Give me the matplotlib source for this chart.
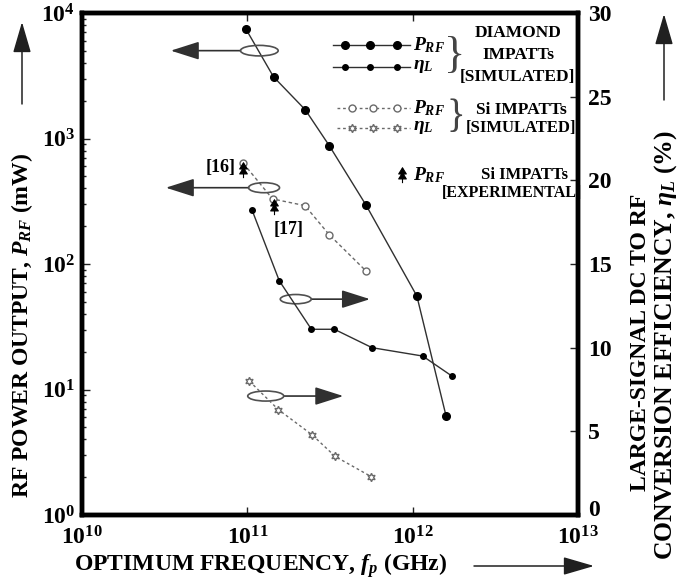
import numpy as np
import matplotlib
matplotlib.use("Agg")
import matplotlib.pyplot as plt
from matplotlib.patches import Ellipse
from matplotlib.path import Path
from matplotlib.transforms import ScaledTranslation

plt.rcParams['font.family'] = ['Liberation Serif', 'DejaVu Serif']
plt.rcParams['font.weight'] = 'bold'
plt.rcParams['mathtext.fontset'] = 'custom'
plt.rcParams['mathtext.rm'] = 'Liberation Serif:bold'
plt.rcParams['mathtext.bf'] = 'Liberation Serif:bold'
plt.rcParams['mathtext.it'] = 'Liberation Serif:italic:bold'

# diamond IMPATTs (simulated)
f_dia_p = [9.8e10, 1.44e11, 2.24e11, 3.13e11, 5.22e11, 1.06e12, 1.59e12]
p_dia = [7460, 3100, 1695, 877, 295, 55.6, 6.2]
f_dia_eta = [1.07e11, 1.56e11, 2.44e11, 3.36e11, 5.68e11, 1.15e12, 1.73e12]
eta_dia = [18.2, 14.0, 11.1, 11.1, 10.0, 9.5, 8.3]

# Si IMPATTs (simulated)
f_si_p = [9.46e10, 1.42e11, 2.23e11, 3.13e11, 5.2e11]
p_si = [634, 330, 292, 171, 88.5]
f_si_eta = [1.03e11, 1.54e11, 2.46e11, 3.40e11, 5.6e11]
eta_si = [8.0, 6.3, 4.8, 3.5, 2.3]

# Si IMPATTs (experimental)
f_exp = [9.46e10, 1.44e11]
p_exp = [560, 286]
exp_refs = ['[16]', '[17]']

xticks = [1e10, 1e11, 1e12, 1e13]
xtick_labels = [r'$10^{10}$', r'$10^{11}$', r'$10^{12}$', r'$10^{13}$']
yticks = [1e0, 1e1, 1e2, 1e3, 1e4]
ytick_labels = [r'$10^{0}$', r'$10^{1}$', r'$10^{2}$', r'$10^{3}$', r'$10^{4}$']
eta_ticks = [0, 5, 10, 15, 20, 25, 30]

# stacked double arrow used for the experimental points
exp_marker = Path(
    [(0, 1), (-0.5, 0.2), (0.5, 0.2), (0, 1),
     (0, 0.35), (-0.5, -0.45), (0.5, -0.45), (0, 0.35),
     (0, -1), (0, 1)],
    [Path.MOVETO, Path.LINETO, Path.LINETO, Path.CLOSEPOLY,
     Path.MOVETO, Path.LINETO, Path.LINETO, Path.CLOSEPOLY,
     Path.MOVETO, Path.LINETO])
star6 = (6, 1, 0)

dark = '#303030'
grey = '#6a6a6a'

fig = plt.figure(figsize=(6.8, 5.88), dpi=100)
ax = fig.add_axes([0.1206, 0.1241, 0.7294, 0.8538])
ax2 = ax.twinx()

ax.set_xscale('log')
ax.set_yscale('log')
ax.set_xlim(1e10, 1e13)
ax.set_ylim(1e0, 1e4)
ax2.set_ylim(0, 30)

# power curves on the left axis
ax.plot(f_dia_p, p_dia, '-', color=dark, lw=1.0, marker='o', ms=5.5,
        mfc='black', mec='black', zorder=3)
ax.plot(f_si_p, p_si, color=grey, lw=1.0, ls=(0, (2.5, 2)), marker='o', ms=5,
        mfc='white', mec=grey, mew=1.0, zorder=3)
ax.plot(f_exp, p_exp, ls='none', marker=exp_marker, ms=11, mfc='black',
        mec='black', mew=0.8, zorder=4)
ax.text(6.9e10, p_exp[0] * 1.05, exp_refs[0], fontsize=13, ha='center', va='center')
ax.text(1.77e11, 190, exp_refs[1], fontsize=13, ha='center', va='center')

# efficiency curves on the right axis
ax2.plot(f_dia_eta, eta_dia, '-', color=dark, lw=1.0, marker='o', ms=4,
         mfc='black', mec='black', zorder=3)
ax2.plot(f_si_eta, eta_si, color=grey, lw=1.0, ls=(0, (2, 2)), marker=star6,
         ms=6, mfc='white', mec=grey, mew=1.0, zorder=3)

# ellipses with arrows pointing to the matching axis
def tag(cx, cy, w, h, x0, x1):
    ax.add_patch(Ellipse((cx, cy), w, h, transform=ax.transAxes, fill=False,
                         ec='#505050', lw=1.2, zorder=5))
    ax.annotate('', xy=(x1, cy), xytext=(x0, cy), xycoords='axes fraction',
                textcoords='axes fraction',
                arrowprops=dict(arrowstyle='-|>,head_length=1.1,head_width=0.35',
                                mutation_scale=16, color='#303030', lw=1.2,
                                shrinkA=0, shrinkB=0))

tag(0.3575, 0.925, 0.076, 0.021, 0.3195, 0.179)
tag(0.367, 0.652, 0.0625, 0.020, 0.336, 0.169)
tag(0.431, 0.430, 0.0625, 0.0185, 0.4627, 0.5806)
tag(0.3704, 0.237, 0.0726, 0.020, 0.4067, 0.5268)

# legend block
T = ax.transAxes
ax.plot([0.506, 0.661], [0.936, 0.936], '-', color=dark, lw=1.0, transform=T)
ax.plot([0.530, 0.581, 0.6345], [0.936] * 3, 'o', ms=5.5, color='black', transform=T)
ax.plot([0.506, 0.661], [0.893, 0.893], '-', color=dark, lw=1.0, transform=T)
ax.plot([0.530, 0.581, 0.6345], [0.893] * 3, 'o', ms=4, color='black', transform=T)
ax.plot([0.514, 0.661], [0.811, 0.811], color=grey, lw=1.0, ls=(0, (2, 2)), transform=T)
ax.plot([0.544, 0.587, 0.635], [0.811] * 3, 'o', ms=5, mfc='white', mec=grey, transform=T)
ax.plot([0.514, 0.661], [0.771, 0.771], color=grey, lw=1.0, ls=(0, (2, 2)), transform=T)
ax.plot([0.544, 0.587, 0.635], [0.771] * 3, ls='none', marker=star6, ms=6,
        mfc='white', mec=grey, transform=T)
ax.plot([0.645], [0.677], ls='none', marker=exp_marker, ms=11, mfc='black',
        mec='black', mew=0.8, transform=T)

p_rf = r'$\mathit{P}_{\mathit{RF}}$'
eta_l = r'$\mathit{\eta}_{\mathit{L}}$'
for y, s in [(0.936, p_rf), (0.893, eta_l), (0.811, p_rf), (0.771, eta_l), (0.677, p_rf)]:
    ax.text(0.667, y, s, transform=T, fontsize=14, ha='left', va='center')

ax.text(0.752, 0.914, '}', transform=T, fontsize=32, fontweight='normal',
        ha='center', va='center', color='#444444')
ax.text(0.754, 0.791, '}', transform=T, fontsize=28, fontweight='normal',
        ha='center', va='center', color='#444444')
ax.text(0.879, 0.960, 'DIAMOND', transform=T, fontsize=12.5, ha='center', va='center')
ax.text(0.879, 0.917, 'IMPATTs', transform=T, fontsize=12.5, ha='center', va='center')
ax.text(0.877, 0.873, '[SIMULATED]', transform=T, fontsize=12.5, ha='center', va='center')
ax.text(0.885, 0.807, 'Si IMPATTs', transform=T, fontsize=12.5, ha='center', va='center')
ax.text(0.885, 0.771, '[SIMULATED]', transform=T, fontsize=12, ha='center', va='center')
ax.text(0.893, 0.677, 'Si IMPATTs', transform=T, fontsize=12, ha='center', va='center')
ax.text(0.868, 0.641, '[EXPERIMENTAL]', transform=T, fontsize=11.5, ha='center', va='center')

# ticks and frame
ax.set_xticks(xticks)
ax.set_xticklabels(xtick_labels)
ax.set_yticks(yticks)
ax.set_yticklabels(ytick_labels)
ax2.set_yticks(eta_ticks)
ax2.set_yticklabels([str(v) for v in eta_ticks])
ax.tick_params(which='both', direction='in', top=True, right=False, labelsize=17,
               width=1.0, color='#222222')
ax.tick_params(which='major', length=6)
ax.tick_params(which='minor', length=3)
ax.tick_params(axis='x', pad=8)
ax.tick_params(axis='y', pad=5)
ax2.tick_params(which='both', direction='in', labelsize=17, length=6, pad=7,
                width=1.0, color='#222222')
ax2.minorticks_off()
for a in (ax, ax2):
    for sp in a.spines.values():
        sp.set_linewidth(3.2)
        sp.set_color('black')

# lift the zero label a little so it clears the 10^13 label below it
zero_lbl = ax2.get_yticklabels()[0]
zero_lbl.set_transform(zero_lbl.get_transform()
                       + ScaledTranslation(0, 5 / 72, fig.dpi_scale_trans))

# axis titles with direction arrows
W, H = 680.0, 588.0
def fx(px):
    return px / W
def fy(py):
    return 1 - py / H

arrow = dict(arrowstyle='-|>,head_length=1.2,head_width=0.35', mutation_scale=16,
             color='#202020', lw=1.1, shrinkA=0, shrinkB=0)

fig.text(fx(74), fy(566), r'OPTIMUM FREQUENCY, $\mathit{f}_{\mathit{p}}$ (GHz)',
         fontsize=17, ha='left', va='center')
fig.add_artist(plt.Annotation('', xy=(fx(594), fy(566)), xytext=(fx(474), fy(566)),
                              xycoords='figure fraction', textcoords='figure fraction',
                              arrowprops=arrow))

fig.text(fx(22), fy(325), r'RF POWER OUTPUT, $\mathit{P}_{\mathit{RF}}$ (mW)',
         fontsize=17, rotation=90, ha='center', va='center')
fig.add_artist(plt.Annotation('', xy=(fx(22), fy(22)), xytext=(fx(22), fy(104)),
                              xycoords='figure fraction', textcoords='figure fraction',
                              arrowprops=arrow))

fig.text(fx(641), fy(342), 'LARGE-SIGNAL DC TO RF', fontsize=17, rotation=90,
         ha='center', va='center')
fig.text(fx(666), fy(345), r'CONVERSION EFFICIENCY, $\mathit{\eta}_{\mathit{L}}$ (%)',
         fontsize=18.5, rotation=90, ha='center', va='center')
fig.add_artist(plt.Annotation('', xy=(fx(664), fy(14)), xytext=(fx(664), fy(100)),
                              xycoords='figure fraction', textcoords='figure fraction',
                              arrowprops=arrow))

fig.savefig('out.png', dpi=100)
